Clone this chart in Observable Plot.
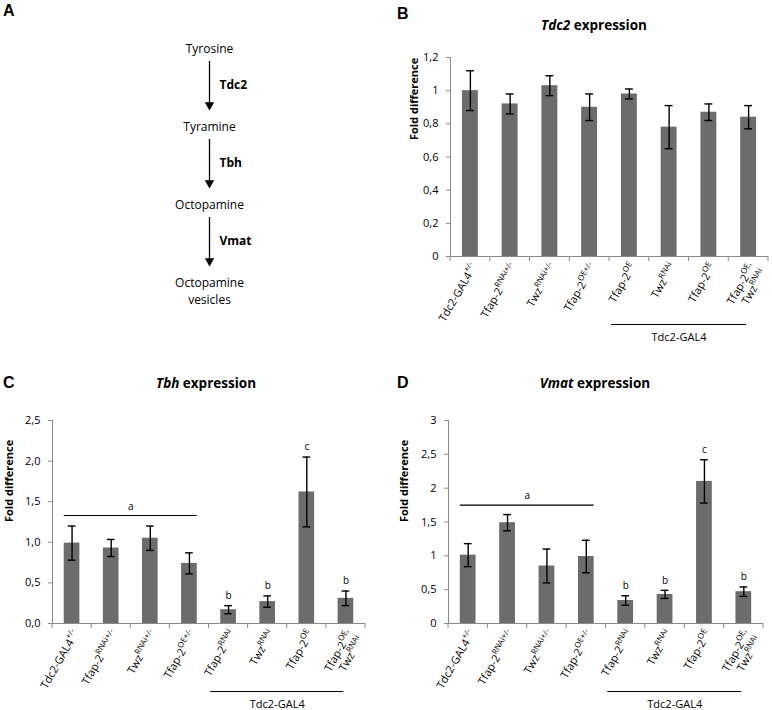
<!DOCTYPE html>
<html><head><meta charset="utf-8">
<script src="https://cdn.jsdelivr.net/npm/d3@7"></script>
<script src="https://cdn.jsdelivr.net/npm/@observablehq/plot@0.6"></script>
<style>
body{margin:0;background:#fff;font-family:"Open Sans",sans-serif;color:#000;}
#fig{position:relative;width:772px;height:710px;overflow:hidden;background:#fff;}
.panel{position:absolute;}
.letter{position:absolute;font-family:"Liberation Sans",Arial,sans-serif;font-weight:bold;font-size:16px;line-height:16px;}
.title{position:absolute;font-weight:bold;font-size:13.5px;line-height:16px;white-space:nowrap;transform:translate(-50%,-50%);}
</style></head><body><div id="fig"></div>
<script>
// ---------- data ----------
const pathwaySteps = ["Tyrosine", "Tyramine", "Octopamine", "Octopamine\nvesicles"];
const pathwayEnzymes = ["Tdc2", "Tbh", "Vmat"];

const genotypeLabelsB = ["Tdc2-GAL4^+/-", "Tfap-2^RNAi+/-", "Twz^RNAi+/-", "Tfap-2^OE+/-",
  "Tfap-2^OE", "Twz^RNAi", "Tfap-2^OE", "Tfap-2^OE,|Twz^RNAi"];
const genotypeLabelsCD = ["Tdc2-GAL4^+/-", "Tfap-2^RNAi+/-", "Twz^RNAi+/-", "Tfap-2^OE+/-",
  "Tfap-2^RNAi", "Twz^RNAi", "Tfap-2^OE", "Tfap-2^OE,|Twz^RNAi"];
const driverLabel = "Tdc2-GAL4";

const tdc2Mean = [1.00, 0.92, 1.03, 0.90, 0.98, 0.78, 0.87, 0.84];
const tdc2Sem  = [0.12, 0.06, 0.06, 0.08, 0.03, 0.13, 0.05, 0.07];

const tbhMean = [0.99, 0.93, 1.05, 0.74, 0.17, 0.27, 1.62, 0.31];
const tbhSem  = [0.21, 0.105, 0.15, 0.13, 0.05, 0.07, 0.43, 0.09];
const tbhLetters = ["", "", "", "", "b", "b", "c", "b"];
const tbhGroupA = 1.33;

const vmatMean = [1.01, 1.49, 0.85, 0.99, 0.34, 0.43, 2.10, 0.47];
const vmatSem  = [0.17, 0.12, 0.25, 0.24, 0.07, 0.06, 0.32, 0.07];
const vmatLetters = ["", "", "", "", "b", "b", "c", "b"];
const vmatGroupA = 1.75;

const yTicksB = [0, 0.2, 0.4, 0.6, 0.8, 1, 1.2];
const yTickLabelsB = ["0", "0,2", "0,4", "0,6", "0,8", "1", "1,2"];
const yTicksC = [0, 0.5, 1, 1.5, 2, 2.5];
const yTickLabelsC = ["0,0", "0,5", "1,0", "1,5", "2,0", "2,5"];
const yTicksD = [0, 0.5, 1, 1.5, 2, 2.5, 3];
const yTickLabelsD = ["0", "0,5", "1", "1,5", "2", "2,5", "3"];

// ---------- styles ----------
const BAR = "#6c6c6c";
const AXIS = "#8a8a8a";
const TEXT = "#000";
const NS = "http://www.w3.org/2000/svg";
const fig = document.getElementById("fig");

function place(node, left, top) {
  const d = document.createElement("div");
  d.className = "panel";
  d.style.left = left + "px"; d.style.top = top + "px";
  d.appendChild(node);
  fig.appendChild(d);
}
function addHTML(cls, html, left, top) {
  const d = document.createElement("div");
  d.className = cls; d.innerHTML = html;
  d.style.left = left + "px"; d.style.top = top + "px";
  fig.appendChild(d);
}

// ---------- panel A ----------
const plotA = Plot.plot({
  width: 380, height: 320,
  marginLeft: 38, marginRight: 0, marginTop: 46, marginBottom: 40,
  x: {domain: [-1, 1], axis: null},
  y: {domain: [0, 3], reverse: true, axis: null},
  style: {fontFamily: "Open Sans", fontSize: "12px", color: TEXT, background: "transparent", overflow: "visible"},
  marks: [
    Plot.text(pathwaySteps, {x: () => 0, y: (d, i) => i, text: d => d, lineAnchor: "top", dy: -5, lineHeight: 1.4, fontSize: 12}),
    Plot.ruleX(pathwayEnzymes, {x: () => 0, y1: (d, i) => i, y2: (d, i) => i + 1, insetTop: 15, insetBottom: 20, stroke: "#000", strokeWidth: 1.3}),
    Plot.dot(pathwayEnzymes, {x: () => 0, y: (d, i) => i + 1, symbol: "triangle", r: 3.5, fill: "#000", stroke: "none", rotate: 180, dy: -19.5}),
    Plot.text(pathwayEnzymes, {x: () => 0, y: (d, i) => i + 0.5, dx: 10, textAnchor: "start", fontWeight: "bold", fontSize: 12})
  ]
});
place(plotA, 0, 0);

// ---------- bar panels ----------
function richLabels(svg, labels, plain) {
  let texts = Array.from(svg.querySelectorAll('g[aria-description="xlab"] text'));
  if (texts.length !== labels.length) {
    const all = Array.from(svg.querySelectorAll("text"));
    texts = []; let pos = 0;
    plain.forEach(p => {
      while (pos < all.length && all[pos].textContent !== p) pos++;
      if (pos < all.length) texts.push(all[pos++]);
    });
  }
  texts.forEach((t, k) => {
    while (t.firstChild) t.removeChild(t.firstChild);
    labels[k].split("|").forEach((line, li) => {
      const [base, sup] = line.split("^");
      const ts = document.createElementNS(NS, "tspan");
      ts.setAttribute("x", 0);
      if (li > 0) ts.setAttribute("dy", "1.15em");
      ts.appendChild(document.createTextNode(base));
      if (sup) {
        const s = document.createElementNS(NS, "tspan");
        s.setAttribute("font-size", "8px");
        s.setAttribute("baseline-shift", "super");
        s.textContent = sup;
        ts.appendChild(s);
      }
      t.appendChild(ts);
    });
  });
}

function barPanel(o) {
  const n = o.mean.length;
  const plain = o.labels.map(l => l.replace(/[\^|]/g, ""));
  const rows = o.mean.map((m, i) => ({i, m, lo: m - o.sem[i], hi: m + o.sem[i],
    letter: o.letters ? o.letters[i] : "", label: plain[i]}));
  const step = (o.width - o.marginLeft - o.marginRight) / n;
  const marks = [
    Plot.barY(rows, {x: "i", y: "m", fill: BAR}),
    Plot.ruleX(rows, {x: "i", y1: "lo", y2: "hi", stroke: "#000", strokeWidth: 1.4}),
    Plot.tickY(rows, {x: "i", y: "lo", stroke: "#000", strokeWidth: 1.4, insetLeft: 4, insetRight: 4}),
    Plot.tickY(rows, {x: "i", y: "hi", stroke: "#000", strokeWidth: 1.4, insetLeft: 4, insetRight: 4}),
    Plot.ruleY([0], {stroke: AXIS, strokeWidth: 1}),
    Plot.frame({anchor: "left", stroke: AXIS, strokeWidth: 1}),
    Plot.axisY({ticks: o.yTicks, tickFormat: d => o.yTickLabels[o.yTicks.indexOf(d)], tickSize: 4, tickPadding: 8,
      stroke: AXIS, fill: TEXT, fontSize: 11, label: null}),
    Plot.text(["Fold difference"], {frameAnchor: "left", rotate: -90, dx: o.labelDx, dy: o.labelDy || 0, fontWeight: "bold", fontSize: 11, fill: TEXT}),
    Plot.text(rows, {x: "i", y: () => 0, text: "label", rotate: -60, textAnchor: "end", dx: 4, dy: 8, fontSize: 11, fill: TEXT, ariaDescription: "xlab"}),
    Plot.ruleY([{a: 4, b: 7}], {x1: "a", x2: "b", y: () => 0, dy: 68, dx: -10, stroke: "#000", strokeWidth: 1.2}),
    Plot.text([driverLabel], {x: () => 6, y: () => 0, text: d => d, dx: -step / 2 - 10, dy: 81, fontSize: 11, fill: TEXT})
  ];
  if (o.letters) {
    marks.push(Plot.text(rows.filter(r => r.letter), {x: "i", y: "hi", text: "letter", dy: -10, fontSize: 10, fill: TEXT}));
    marks.push(Plot.ruleY([{a: 0, b: 3, v: o.groupA}], {x1: "a", x2: "b", y: "v", stroke: "#000", strokeWidth: 1.2}));
    marks.push(Plot.text([{v: o.groupA}], {x: () => 1, y: "v", text: () => "a", dx: step / 2, dy: -9, fontSize: 10, fill: TEXT}));
  }
  const svg = Plot.plot({
    width: o.width, height: o.height,
    marginLeft: o.marginLeft, marginRight: o.marginRight, marginTop: o.marginTop, marginBottom: o.marginBottom,
    x: {type: "band", domain: d3.range(n), paddingInner: 0.6, paddingOuter: 0.3, round: false, axis: null},
    y: {domain: o.yDomain, axis: null},
    style: {fontFamily: "Open Sans", fontSize: "11px", color: TEXT, background: "transparent", overflow: "visible"},
    marks
  });
  richLabels(svg, o.labels, plain);
  const sx = svg.scale("x"), sy = svg.scale("y");
  const bw = sx.bandwidth, st = sx.step != null ? sx.step : (sx.apply(1) - sx.apply(0));
  const y0 = sy.apply(0);
  const bounds = d3.range(n).map(k => sx.apply(k) - (st - bw) / 2);
  bounds.push(sx.apply(n - 1) + bw + (st - bw) / 2);
  d3.select(svg).append("g").attr("stroke", AXIS)
    .selectAll("line").data(bounds).join("line")
    .attr("x1", d => d).attr("x2", d => d).attr("y1", y0).attr("y2", y0 + 5);
  return svg;
}

place(barPanel({width: 387, height: 310, marginLeft: 65, marginRight: 4, marginTop: 20, marginBottom: 91,
  mean: tdc2Mean, sem: tdc2Sem, labels: genotypeLabelsB, yDomain: [0, 1.2], yTicks: yTicksB, yTickLabels: yTickLabelsB,
  labelDx: -36, labelDy: -17}), 385, 37);

place(barPanel({width: 370, height: 310, marginLeft: 52, marginRight: 5, marginTop: 20, marginBottom: 87,
  mean: tbhMean, sem: tbhSem, letters: tbhLetters, groupA: tbhGroupA, labels: genotypeLabelsCD,
  yDomain: [0, 2.5], yTicks: yTicksC, yTickLabels: yTickLabelsC, labelDx: -43}), 0, 400);

place(barPanel({width: 383, height: 310, marginLeft: 63, marginRight: 5, marginTop: 20, marginBottom: 87,
  mean: vmatMean, sem: vmatSem, letters: vmatLetters, groupA: vmatGroupA, labels: genotypeLabelsCD,
  yDomain: [0, 3], yTicks: yTicksD, yTickLabels: yTickLabelsD, labelDx: -44}), 385, 400);

// ---------- letters and titles ----------
addHTML("letter", "A", 3, 3);
addHTML("letter", "B", 397, 6);
addHTML("letter", "C", 3, 375);
addHTML("letter", "D", 397, 375);
addHTML("title", "<i>Tdc2</i> expression", 594, 25);
addHTML("title", "<i>Tbh</i> expression", 206, 383);
addHTML("title", "<i>Vmat</i> expression", 595, 383);
</script>
</body></html>
